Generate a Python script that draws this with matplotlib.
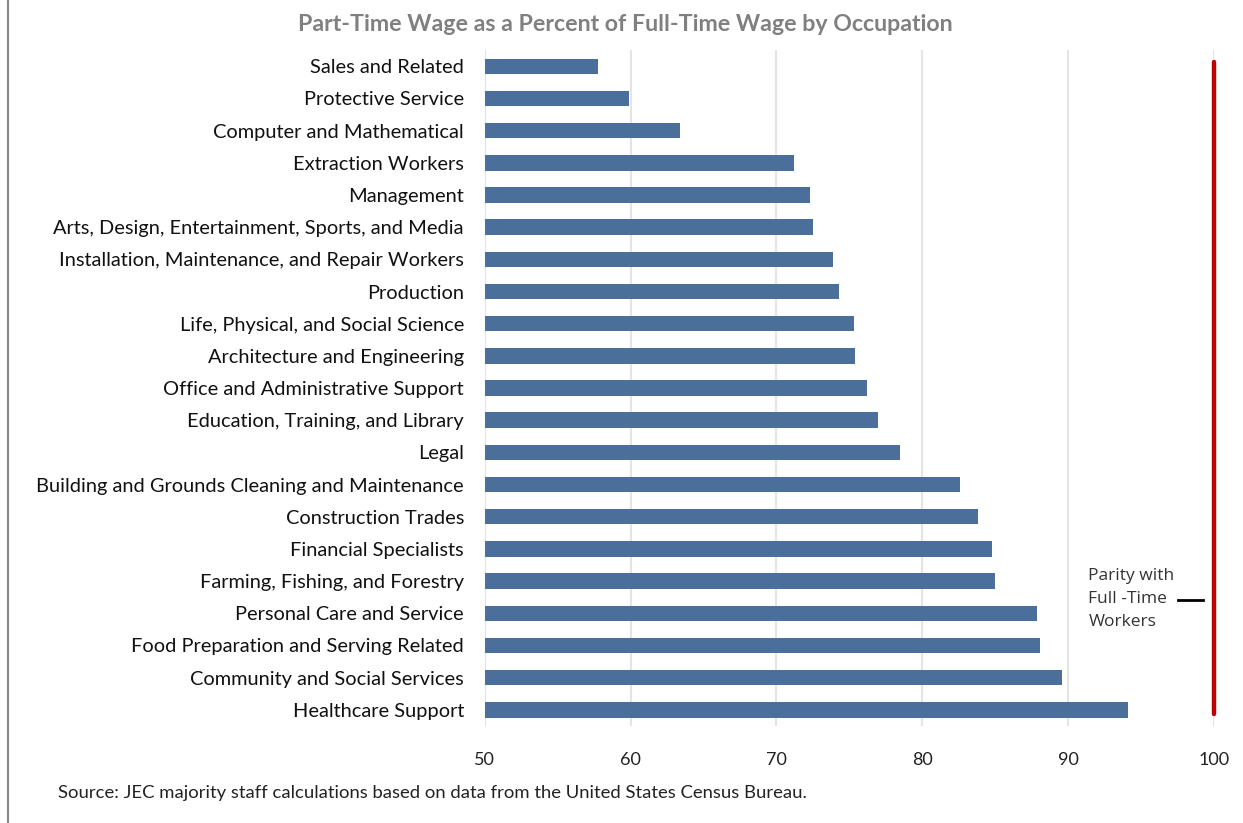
import numpy as np
import matplotlib.pyplot as plt
import matplotlib.lines as mlines

# part-time wage as % of full-time wage, by occupation
occupations = [
    "Sales and Related",
    "Protective Service",
    "Computer and Mathematical",
    "Extraction Workers",
    "Management",
    "Arts, Design, Entertainment, Sports, and Media",
    "Installation, Maintenance, and Repair Workers",
    "Production",
    "Life, Physical, and Social Science",
    "Architecture and Engineering",
    "Office and Administrative Support",
    "Education, Training, and Library",
    "Legal",
    "Building and Grounds Cleaning and Maintenance",
    "Construction Trades",
    "Financial Specialists",
    "Farming, Fishing, and Forestry",
    "Personal Care and Service",
    "Food Preparation and Serving Related",
    "Community and Social Services",
    "Healthcare Support",
]
pct_of_fulltime = [57.8, 59.9, 63.4, 71.2, 72.3, 72.5, 73.9, 74.3, 75.3, 75.4,
                   76.2, 77.0, 78.5, 82.6, 83.8, 84.8, 85.0, 87.9, 88.1, 89.6, 94.1]
xticks = [50, 60, 70, 80, 90, 100]
parity = 100

plt.rcParams['font.family'] = ['Lato', 'DejaVu Sans']

fig = plt.figure(figsize=(12.43, 8.23), dpi=100)
ax = fig.add_axes([0.390, 0.118, 0.5865, 0.821])

y = np.arange(len(occupations))
ax.barh(y, pct_of_fulltime, height=0.48, color='#4A6F9B', zorder=3)

ax.set_xlim(50, 100)
ax.set_ylim(len(occupations) - 0.5, -0.5)
ax.set_xticks(xticks)
ax.set_xticklabels([str(t) for t in xticks], fontsize=13, color='#222222')
ax.set_yticks(y)
ax.set_yticklabels(occupations, fontsize=14.45, color='#111111')
ax.tick_params(axis='both', length=0)
ax.tick_params(axis='x', pad=19)
ax.tick_params(axis='y', pad=15)
for s in ax.spines.values():
    s.set_visible(False)
ax.grid(axis='x', color='#e4e4e4', linewidth=1.5, zorder=0)

# parity line at 100%
ax.plot([parity, parity], [-0.12, len(occupations) - 1 + 0.12], color='#C00000',
        linewidth=3.2, solid_capstyle='round', clip_on=False, zorder=4)
ax.plot([97.55, 99.25], [16.6, 16.6], color='black', linewidth=2, clip_on=False)
ax.text(91.4, 16.55, "Parity with\nFull -Time\nWorkers", fontsize=12.5,
        color='#333333', va='center', ha='left', linespacing=1.6,
        family=['Open Sans', 'DejaVu Sans'])

fig.text(0.503, 0.970, "Part-Time Wage as a Percent of Full-Time Wage by Occupation",
         ha='center', va='center', fontsize=16.7, fontweight='bold', color='#808080')
fig.text(0.047, 0.037,
         "Source: JEC majority staff calculations based on data from the United States Census Bureau.",
         ha='left', va='center', fontsize=13.3, color='#222222')

# chart frame edge on the left
fig.add_artist(mlines.Line2D([0.0065, 0.0065], [0, 1], color='#888888', linewidth=1.5))

fig.savefig('out.png', dpi=100, facecolor='white')
